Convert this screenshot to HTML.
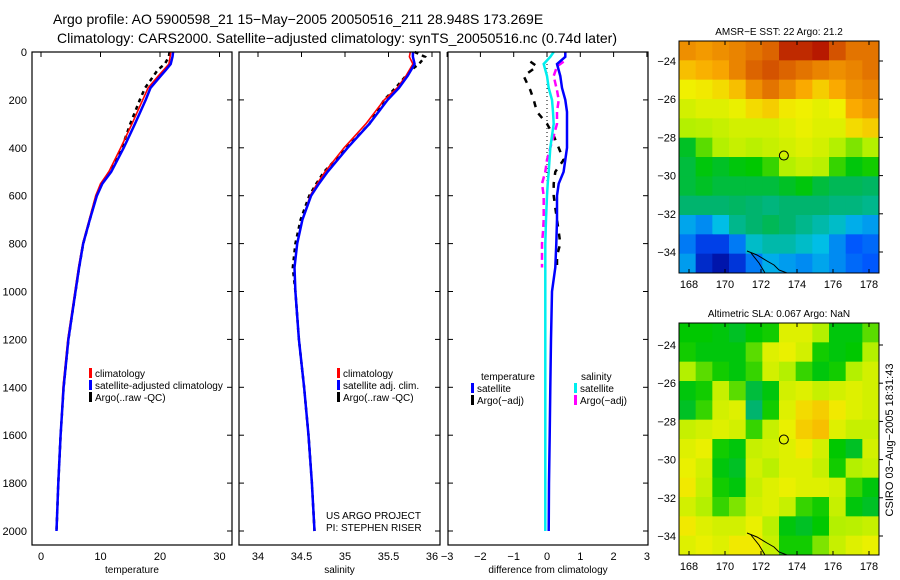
<!DOCTYPE html>
<html><head><meta charset="utf-8"><style>
body{margin:0;background:#fff;}
svg{display:block;font-family:"Liberation Sans",sans-serif;}
</style></head><body>
<svg id="c" width="900" height="580" viewBox="0 0 900 580" xmlns="http://www.w3.org/2000/svg">
<text x="53" y="24" font-size="14">Argo profile: AO 5900598_21 15−May−2005 20050516_211 28.948S 173.269E</text>
<text x="57" y="43" font-size="14" textLength="560" lengthAdjust="spacingAndGlyphs">Climatology: CARS2000. Satellite−adjusted climatology: synTS_20050516.nc (0.74d later)</text>
<g id="g"></g>
</svg>
<script>
const depths=[0,20,50,75,100,150,200,300,400,500,550,600,700,800,900,1000,1200,1400,1600,1800,2000];
const tempClim=[21.8,21.7,21.5,20.6,19.7,18.0,17.1,15.3,13.4,11.4,10.0,9.2,8.1,7.0,6.3,5.7,4.5,3.7,3.3,2.9,2.6];
const tempSat=[22.2,22.1,21.8,21.0,20.1,18.4,17.6,15.8,13.9,11.8,10.3,9.4,8.2,7.1,6.4,5.8,4.6,3.8,3.3,2.9,2.6];
const tempArgo=[21.6,21.5,20.8,19.6,18.9,17.5,16.6,15.0,13.6,11.5,10.2,9.3,8.2,7.1,6.4,5.8,4.6,3.8,3.3,2.9,2.6];
const salClim=[35.75,35.74,35.78,35.74,35.70,35.60,35.45,35.24,34.99,34.77,34.68,34.60,34.51,34.45,34.42,34.43,34.47,34.53,34.58,34.62,34.65];
const salSat=[35.78,35.78,35.80,35.76,35.72,35.62,35.49,35.28,35.03,34.80,34.70,34.61,34.51,34.45,34.42,34.43,34.47,34.53,34.58,34.62,34.65];
const salArgo=[35.80,35.92,35.85,35.76,35.70,35.58,35.45,35.28,35.02,34.76,34.67,34.59,34.49,34.43,34.40,34.43,34.47,34.53,34.58,34.62,34.65];
const diffDepths=[0,20,50,100,150,200,250,300,400,500,550,600,700,800,900,1000,1200,1400,1600,1800,2000];
const dTempSat=[0.55,0.55,0.3,0.4,0.45,0.55,0.6,0.6,0.6,0.5,0.35,0.3,0.3,0.28,0.25,0.15,0.12,0.1,0.08,0.06,0.05];
const dSalSat=[0.2,0.1,-0.1,0,0.05,0.15,0.18,0.2,0.1,0.05,0.02,0,-0.03,-0.05,-0.05,-0.05,-0.05,-0.05,-0.05,-0.05,-0.05];
const dArgoDepths=[40,60,100,130,160,200,250,300,350,400,450,500,550,600,650,700,750,800,850,900];
const dTempArgo=[-0.5,-0.3,-0.7,-0.6,-0.5,-0.4,-0.3,0.0,0.2,0.35,0.5,0.25,0.2,0.2,0.25,0.3,0.35,0.4,0.3,0.3];
const dSalArgo=[0.5,0.3,0.2,0.25,0.3,0.35,0.3,0.3,0.2,0.1,0.0,-0.05,-0.15,-0.1,-0.1,-0.1,-0.12,-0.15,-0.15,-0.15];
const tempTicks=[0,10,20,30];
const salTicks=[34,34.5,35,35.5,36];
const diffTicks=[-3,-2,-1,0,1,2,3];
const depthTicks=[0,200,400,600,800,1000,1200,1400,1600,1800,2000];
const lonTicks=[168,170,172,174,176,178];
const latTicks=[-24,-26,-28,-30,-32,-34];
const sstGrid=[
[.80,.78,.80,.82,.85,.88,.95,.95,.97,.90,.85,.85],
[.72,.74,.76,.82,.88,.90,.88,.85,.82,.80,.82,.85],
[.65,.66,.68,.72,.80,.85,.80,.75,.70,.75,.80,.82],
[.60,.62,.62,.64,.68,.70,.66,.65,.63,.65,.75,.78],
[.55,.56,.58,.60,.60,.60,.62,.64,.62,.62,.68,.70],
[.42,.50,.55,.58,.56,.58,.60,.62,.60,.55,.52,.55],
[.40,.44,.42,.44,.45,.48,.55,.58,.56,.48,.44,.46],
[.40,.42,.40,.40,.40,.40,.42,.44,.40,.38,.38,.37],
[.36,.36,.36,.37,.36,.35,.36,.36,.36,.35,.35,.34],
[.25,.22,.28,.34,.36,.38,.36,.34,.32,.30,.26,.24],
[.20,.12,.12,.20,.30,.32,.32,.30,.28,.22,.16,.18],
[.24,.08,.04,.10,.20,.26,.24,.22,.25,.22,.18,.16]];
const slaGrid=[
[.45,.45,.44,.42,.45,.46,.62,.62,.55,.44,.44,.50],
[.46,.44,.44,.44,.50,.62,.64,.60,.46,.44,.45,.55],
[.55,.50,.46,.44,.48,.60,.55,.48,.44,.46,.55,.60],
[.44,.46,.58,.50,.40,.44,.60,.62,.58,.60,.62,.60],
[.42,.48,.60,.62,.36,.46,.62,.68,.70,.66,.62,.60],
[.58,.60,.62,.60,.48,.58,.64,.70,.72,.62,.58,.58],
[.62,.64,.46,.44,.58,.60,.62,.66,.60,.45,.42,.60],
[.64,.60,.44,.42,.60,.56,.62,.62,.58,.46,.55,.58],
[.66,.58,.46,.44,.58,.62,.64,.62,.62,.60,.48,.44],
[.60,.55,.48,.52,.60,.62,.58,.48,.46,.58,.44,.42],
[.66,.62,.60,.60,.64,.56,.44,.42,.45,.55,.56,.58],
[.62,.64,.62,.66,.66,.58,.46,.46,.52,.58,.62,.64]];
const floatLon=173.27, floatLat=-28.95;

const NS="http://www.w3.org/2000/svg";
const G=document.getElementById('g');
function mk(tag,attrs,parent){const e=document.createElementNS(NS,tag);for(const k in attrs)e.setAttribute(k,attrs[k]);(parent||G).appendChild(e);return e;}
function txt(s,x,y,attrs){const e=mk('text',Object.assign({x:x,y:y,'font-size':11},attrs||{}));e.textContent=s;return e;}

const Y0=52,Y1=545;
const yD=d=>Y0+d*0.2395;
const panels=[
 {x0:32,x1:232,sx:v=>41+v*5.95,ticks:tempTicks,label:'temperature',name:'temperature-panel'},
 {x0:239,x1:440,sx:v=>258+(v-34)*87,ticks:salTicks,label:'salinity',name:'salinity-panel'},
 {x0:448,x1:648,sx:v=>547+v*33.3,ticks:diffTicks,label:'difference from climatology',name:'difference-panel'}];

function line(xs,ds,sx,color,w,name,dash){
  const pts=xs.map((v,i)=>sx(v).toFixed(1)+','+yD(ds[i]).toFixed(1)).join(' ');
  const p=mk('polyline',{points:pts,fill:'none',stroke:color,'stroke-width':w});
  if(dash)p.setAttribute('stroke-dasharray',dash);
  
  
}

panels.forEach((P,pi)=>{
  const g=mk('g',{});
  
  
  P.ticks.forEach(t=>{
    const x=P.sx(t);
    mk('line',{x1:x,x2:x,y1:Y0,y2:Y0+5,stroke:'#000'},g);
    const tl=txt(String(t).replace('-','−'),x,Y1+15,{'text-anchor':'middle'});
    
    
  });
  depthTicks.forEach(d=>{
    const y=yD(d);
    if(pi>0)mk('line',{x1:P.x0,x2:P.x0+5,y1:y,y2:y,stroke:'#000'},g);
    mk('line',{x1:P.x1-5,x2:P.x1,y1:y,y2:y,stroke:'#000'},g);
    if(pi==0){const tl=txt(String(d),27,y+4,{'text-anchor':'end'});
      
      }
  });
  const xl=txt(P.label,(P.x0+P.x1)/2,Y1+28,{'text-anchor':'middle','font-size':10});
  
  
});

line(tempArgo,depths,panels[0].sx,'#000',2.5,'temp-argo-line','4,4');
line(tempClim,depths,panels[0].sx,'#f00',1.6,'temp-climatology-line');
line(tempSat,depths,panels[0].sx,'#00f',2.5,'temp-satellite-line');
line(salArgo,depths,panels[1].sx,'#000',2.5,'sal-argo-line','4,4');
line(salClim,depths,panels[1].sx,'#f00',1.6,'sal-climatology-line');
line(salSat,depths,panels[1].sx,'#00f',2.5,'sal-satellite-line');
const zl=mk('line',{x1:panels[2].sx(0),x2:panels[2].sx(0),y1:yD(0),y2:yD(560),stroke:'#000','stroke-dasharray':'1,3'});


line(dTempArgo,dArgoDepths,panels[2].sx,'#000',2.5,'diff-temp-argo-line','6,7');
line(dSalArgo,dArgoDepths,panels[2].sx,'#f0f',2.5,'diff-sal-argo-line','7,4');
line(dTempSat,diffDepths,panels[2].sx,'#00f',2.5,'diff-temp-satellite-line');
line(dSalSat,diffDepths,panels[2].sx,'#0ee',2.5,'diff-sal-satellite-line');

panels.forEach(P=>{
  const r=mk('rect',{x:P.x0,y:Y0,width:P.x1-P.x0,height:Y1-Y0,fill:'none',stroke:'#000','stroke-width':1.2});
  
  
});

function legend(items,x,y,name){
  const g=mk('g',{});
  
  
  items.forEach((it,i)=>{
    const yy=y+i*12;
    mk('rect',{x:x,y:yy-8,width:3,height:10,fill:it[1]},g);
    const t=mk('text',{x:x+6,y:yy+1,'font-size':10},g);t.textContent=it[0];
  });
}
legend([['climatology','#f00'],['satellite-adjusted climatology','#00f'],['Argo(..raw -QC)','#000']],89,376,'temperature-legend');
legend([['climatology','#f00'],['satellite adj. clim.','#00f'],['Argo(..raw -QC)','#000']],337,376,'salinity-legend');
const tl1=txt('temperature',481,380,{'font-size':10});
legend([['satellite','#00f'],['Argo(−adj)','#000']],471,391,'diff-temperature-legend');
const tl2=txt('salinity',581,380,{'font-size':10});
legend([['satellite','#0ee'],['Argo(−adj)','#f0f']],574,391,'diff-salinity-legend');
const c1=txt('US ARGO PROJECT',326,519,{'font-size':10});
const c2=txt('PI: STEPHEN RISER',326,531,{'font-size':10});

const stops=[[0,[0,0,140]],[.15,[0,80,255]],[.28,[0,190,230]],[.36,[0,180,110]],[.45,[0,200,0]],[.55,[180,240,0]],[.65,[240,240,0]],[.75,[250,170,0]],[.88,[220,100,0]],[1,[170,0,0]]];
function cmap(v){for(let i=1;i<stops.length;i++){if(v<=stops[i][0]){const a=stops[i-1],b=stops[i],t=(v-a[0])/(b[0]-a[0]);return 'rgb('+a[1].map((c,k)=>Math.round(c+(b[1][k]-c)*t)).join(',')+')';}}return 'rgb(170,0,0)';}
function map(grid,top,lat24y,title,name){
  const x0=679,x1=879,y0=top,y1=top+232;
  const lx=lon=>689+(lon-168)*18, ly=lat=>lat24y+(-24-lat)*19.1;
  const g=mk('g',{});
  
  
  const rows=grid.length,cols=grid[0].length,cw=(x1-x0)/cols,ch=(y1-y0)/rows;
  grid.forEach((row,r)=>row.forEach((v,c)=>{
    const cell=mk('rect',{x:x0+c*cw,y:y0+r*ch,width:cw+0.5,height:ch+0.5,fill:cmap(v)},g);
    
    
  }));
  mk('polyline',{points:`${x0+68},${y1-22} ${x0+78},${y1-18} ${x0+88},${y1-12} ${x0+95},${y1-8} ${x0+100},${y1-3} ${x0+108},${y1}`,fill:'none',stroke:'#000'},g);
  mk('polyline',{points:`${x0+72},${y1-20} ${x0+80},${y1-10} ${x0+86},${y1}`,fill:'none',stroke:'#000'},g);
  lonTicks.forEach(l=>{const x=lx(l);mk('line',{x1:x,x2:x,y1:y0,y2:y0+4,stroke:'#000'},g);mk('line',{x1:x,x2:x,y1:y1-4,y2:y1,stroke:'#000'},g);
    const t=mk('text',{x:x,y:y1+15,'font-size':11,'text-anchor':'middle'},g);t.textContent=l;});
  latTicks.forEach(l=>{const y=ly(l);mk('line',{x1:x1,x2:x1+4,y1:y,y2:y,stroke:'#000'},g);
    const t=mk('text',{x:676,y:y+4,'font-size':11,'text-anchor':'end'},g);t.textContent=String(l).replace('-','−');});
  const c=mk('circle',{cx:lx(floatLon),cy:ly(floatLat),r:4.5,fill:'none',stroke:'#000'},g);
  
  
  mk('rect',{x:x0,y:y0,width:x1-x0,height:y1-y0,fill:'none',stroke:'#000'},g);
  const t=mk('text',{x:779,y:y0-6,'font-size':10,'text-anchor':'middle'},g);t.textContent=title;
}
map(sstGrid,41,61,'AMSR−E SST: 22 Argo: 21.2','sst-map');
map(slaGrid,323,345,'Altimetric SLA: 0.067 Argo: NaN','sla-map');
const st=txt('CSIRO 03−Aug−2005 18:31:43',0,0,{'font-size':11,'text-anchor':'middle',transform:'translate(893,440) rotate(-90)'});


</script>
</body></html>
